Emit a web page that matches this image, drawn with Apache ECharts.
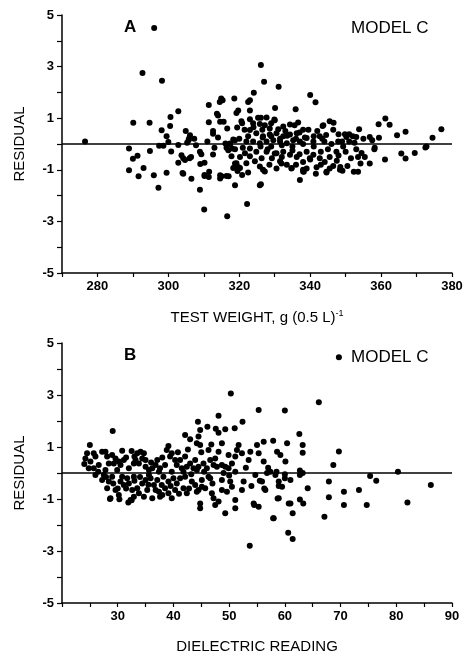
<!DOCTYPE html>
<html>
<head>
<meta charset="utf-8">
<script src="https://cdn.jsdelivr.net/npm/echarts@6/dist/echarts.min.js"></script>
<style>html,body{margin:0;padding:0;background:#fff}#c{width:471px;height:658px}</style>
</head>
<body>
<div id="c"></div>
<script>
// Panel A: residual vs test weight, g (0.5 L)^-1
var testWeightPoints = [
[276.5,0.1],[296,4.5],[292.7,2.75],[298.2,2.45],[290.1,0.82],[294.7,0.82],[288.9,-0.17],[290,-0.57],[291.3,-0.46],[293,-0.93],[288.9,-1.02],[291.6,-1.25],[295.9,-1.21],[297.2,-1.7],[294.8,-0.27],[298.1,0.53],[297.4,-0.07],[298.6,-0.07],[299.5,0.3],[300.6,1.05],[300.5,0.7],[302.8,1.27],[299.5,-1.11],[300.8,-0.29],[300,0.08],[302.8,-0.73],[302.8,-0.04],[304,-1.12],[303.7,-0.44],[304.9,0.5],[304.7,-0.62],[305.7,0.15],[306.5,-1.35],[306.4,-0.5],[306.1,0.34],[307.3,0.2],[308.9,-1.77],[309,-0.78],[310.1,-2.54],[310.2,-1.24],[309.3,-0.4],[310.2,-0.73],[311.4,1.51],[311.4,0.84],[311.4,-1.28],[311.5,-1.08],[312.6,-0.41],[312.6,0.4],[313.7,1.17],[314,1.1],[314.5,1.63],[314.9,1.76],[315.3,1.7],[314.6,0.86],[315.6,0.86],[314.6,-1.21],[314.6,-1.34],[316.6,-2.8],[316.4,-1.24],[316.6,0.6],[316.1,0.02],[317.4,0.02],[316.9,-0.24],[318,-0.17],[318.6,1.76],[318.8,-1.6],[319.2,1.2],[319.7,1.3],[319.4,0.64],[318.8,0.15],[318.8,-0.76],[319.7,-0.89],[320.2,-0.5],[320.8,0.8],[322.2,-2.33],[322.5,1.63],[323,1.7],[323,1.3],[324.1,1.99],[323,0.96],[323.9,0.8],[325.3,1.02],[326.1,1.02],[326.1,3.06],[327,2.41],[326.1,-1.56],[331.1,2.22],[330.1,1.4],[329.9,0.95],[335.9,1.35],[340,1.9],[341.5,1.62],[337.1,-1.4],[338.2,-1.08],[341.6,-1.15],[343.5,0.7],[345.5,0.88],[346.6,0.82],[348,0.38],[348.5,-0.89],[349.1,-1.04],[349.8,0.38],[350.2,0.27],[351,0.38],[352.3,-1.08],[353.5,-1.08],[353.8,0.57],[356.8,0.27],[354.2,-0.76],[356.8,-0.76],[358.1,-0.2],[359.4,0.24],[359.3,0.77],[361.2,0.99],[362.4,0.75],[361.1,-0.6],[364.5,0.34],[365.7,-0.37],[366.9,-0.56],[366.9,0.47],[369.5,-0.35],[372.5,-0.14],[374.5,0.24],[377,0.57],
[320.6,0.88],[327.7,1.03],[330,0.92],[327.2,0.73],[325.8,0.78],[328.6,0.6],[331,0.57],[332.4,0.68],[334.3,0.76],[335.6,0.73],[336.6,0.83],[338,0.55],[336.2,0.42],[334.3,0.37],[332.4,0.3],[330.5,0.42],[328.6,0.37],[326.7,0.3],[324.8,0.42],[323,0.54],[322.5,0.3],[323.9,0.1],[325.8,0.03],[327.7,0.1],[329.6,0.15],[331.5,0.1],[333.4,0.03],[335.2,0.15],[337.1,0.1],[339,0.23],[340.9,0.1],[342.7,0.3],[343.7,0.73],[346.5,0.55],[347.9,0.1],[349.3,-0.1],[347.4,-0.3],[345.5,-0.5],[344.1,-0.7],[346.5,-0.85],[344.6,-1.1],[341.8,-0.9],[342.7,-0.55],[340.9,-0.42],[339,-0.3],[339.9,-0.55],[338,-0.7],[336.2,-0.5],[334.3,-0.42],[332.4,-0.3],[330.5,-0.36],[333.4,-0.8],[334.8,-0.93],[331.5,-0.67],[329.2,-0.55],[327.7,-0.3],[326.3,-0.55],[324.8,-0.3],[323,-0.17],[321.6,-0.36],[319.2,-0.75],[318.3,-0.93],[320.2,-0.93],[322,-0.75],[324.4,-0.67],[325.8,-0.87],[327.2,-1.07],[323,-0.47],[317.4,0],[318.8,-0.2],[316.4,-0.15],[317.8,-0.47],[318.3,0.17],
[305.8,0.2],[305.3,0.05],[312.6,0.5],[308.9,-0.3],[304.2,-0.55],[306,-0.55],[304.2,-1.15],[310.2,-1.2],[315,-1.25],[317,-1.25],[325.8,-1.6],[338,-1.07],
[352,0.3],[353,0.27],[343.4,0.2],[341,0.3],[338.5,0.25],[336,0.2],[333.5,0.32],[331.5,0.2],[329,0.3],[326.6,0.25],[355,0.2],[357.5,0.15],
[326.7,-1.0],[330,-0.37],[331.9,-0.76],[334.7,-0.95],[338,-1.0],[344.6,-1.08],[345.5,-0.95],[348.4,-1.0],[355.4,-0.5],[358.2,-0.15],[372.8,-0.1],
[328,-0.2],[332,-0.5],[335,-0.25],[337,-0.4],[340,-0.6],[343,-0.3],[345,-0.2],[348,-0.45],[350,-0.3],[351.5,-0.55],[353,-0.2],[354.5,-0.35],[349,0.1],[351,0.1],[352.5,0.05],[344,0.1],[346,0.0],[341,-0.1],[338,0.0],[335,-0.1],[332,-0.05],[329,-0.1],[326,-0.1],[322,0.1],[320,0.2],[321,-0.15],
[321.5,0.55],[324,0.65],[326.5,0.55],[329,0.8],[333,0.5],[337,0.45],[339.5,0.55],[342,0.5],[344.5,0.35],[322.5,-1.1],[320.8,-1.2],[319.5,-1.05],[328.5,-0.8],[330.5,-0.95],[336,-0.8],[339,-0.95],[343,-0.8],[347.5,-0.65],[350.5,-0.85],[353.5,-0.5],[313,-0.15],[311,0.1],[314,0.25],[307.8,-0.05]
];

// Panel B: residual vs dielectric reading
var dielectricPoints = [
[69.7,4.45],[50.3,3.06],[55.3,2.42],[60,2.4],[66.1,2.72],[29.1,1.62],[44.4,1.97],[48.1,2.2],[52.4,1.97],
[46.1,1.78],[47.6,1.7],[48.1,1.55],[49.3,1.68],[51,1.72],[44.8,1.65],[44.5,1.4],[42.1,1.46],[43,1.3],[44.2,1.14],[44.8,1.08],[48.7,1.14],[48.1,0.82],[46.3,0.88],[46.6,0.5],[47.2,0.31],[51.7,1.08],[51.4,0.88],[52.3,0.76],[51.1,0.63],[49.9,0.69],[50.5,0.37],[49.3,0.24],[53.8,0.82],[53.5,0.5],[55,1.08],[56.2,1.2],[57.9,1.24],[55.3,0.76],[56.2,0.44],[58.6,0.82],[59.2,0.69],[60.4,1.14],[60.1,0.44],
[62.6,1.5],[63.2,1.08],[63.2,0.78],[69.7,0.83],[68.7,0.31],[57,0.2],[58.5,0.05],[60,-0.05],[62.7,0.1],[63.2,0.0],
[25,1.08],[24.5,0.76],[24.2,0.56],[25.1,0.44],[26,0.63],[25.7,0.76],[27.2,0.82],[27.8,0.82],[28.1,0.63],[29,0.69],[29.6,0.56],[29.3,0.37],[30.2,0.44],[30.5,0.31],[30.8,0.86],[31.1,0.5],[28.4,0.37],[26.6,0.31],[25.7,0.18],[24.8,0.18],[27.8,0.12],[29.9,0.12],[32,0.18],[32.9,0.37],[33,0.63],[33.5,0.76],[34.1,0.82],[34.7,0.76],[33.2,0.5],
[33.8,0.37],[34.4,0.56],[35,0.24],[35.6,0.12],[36.2,0.18],[36.8,0.31],[37.1,0.5],[37.6,0.18],[38.5,0.31],[38.8,0.88],[39.1,1.04],[39.4,0.63],[39.7,0.76],[40.3,0.5],[40.6,0.31],[41.2,0.5],[41.5,0.18],[42.1,0.63],[42.4,0.24],[43,0.37],[43.6,0.18],[43.9,0.5],[44.5,0.24],[45.4,0.37],[46,0.18],[47.5,0.56],[47.8,0.24],[48.7,0.31],[49.9,0.18],[51.1,0.05],[37.4,0.05],[39.7,0.05],[44.2,0.12],
[27.2,-0.27],[27.5,-0.08],[28.4,-0.33],[28.1,-0.59],[28.7,-0.97],[29.6,-0.65],[30.2,-0.85],[30.5,-0.33],[31.1,-0.46],[31.7,-0.2],[32,-0.4],[32.6,-0.65],[32.3,-1.04],[32.9,-0.91],[33.5,-0.59],[33.8,-0.78],[34.4,-0.4],[35,-0.27],[34.7,-0.91],[35.3,-0.65],[35.9,-0.2],[36.5,-0.46],[36.2,-0.97],[37.1,-0.27],[37.4,-0.72],[37.6,-0.91],[37.9,-0.46],[38.2,-0.14],[38.5,-0.59],[39.1,-0.78],[39.1,-0.33],[39.7,-0.97],[40.3,-0.65],[40.6,-0.4],[41.2,-0.2],[41.8,-0.59],[42.1,-0.14],[42.4,-0.78],[43.3,-0.33],[43.9,-0.46],[44.2,-0.72],[45.1,-0.27],[45.7,-0.59],[46.3,-0.14],[32.9,-0.14],[35.6,-0.08],[30.8,-0.14],[29,-0.14],[26,-0.08],
[46.6,-0.2],[44.5,-0.65],[45.1,-0.53],[44.8,-1.17],[44.8,-1.36],[46.9,-0.78],[47.2,-0.97],[47.5,-1.23],[48.1,-1.1],[48.7,-0.65],[49.6,-0.72],[51.1,-1.04],[51.1,-1.36],[49.3,-1.55],[54.4,-1.17],[55.3,-1.3],[58,-1.74],[58.9,-0.97],[61,-1.17],[61,-0.27],[59.5,-0.53],[58.9,-0.33],[56.5,-0.65],[55.9,-0.33],[54.7,-0.08],[57.4,0.05],[58.3,-0.08],[52.6,-0.33],[52.3,-0.65],[50.2,-0.33],[50.5,-0.53],[48.7,-0.27],
[53.7,-2.8],[28.6,-1.0],[30.3,-1.01],[31.9,-1.13],[32.5,-1.05],[54.5,-1.23],
[57.9,-1.74],[60.6,-2.3],[61.4,-2.54],[61.4,-1.55],[60.7,-1.17],[58.7,-0.98],[62.7,-1.02],[63.3,-1.17],[64.1,-0.59],[67.9,-0.33],[67.9,-0.93],[67.1,-1.68],[70.6,-0.72],[70.6,-1.23],[73.3,-0.65],[74.7,-1.23],[75.3,-0.12],[76.4,-0.3],[80.3,0.05],[82,-1.13],[86.2,-0.46],[55.5,-0.3],[56.3,-0.6],[58.9,-0.5],[60,-0.2],[56.8,0],[62.7,-0.08],
[31.5,-0.6],[33,-0.3],[34,-0.15],[35.5,-0.45],[36.8,-0.65],[38,-0.85],[39.5,-0.5],[40,-0.2],[41,-0.8],[42.8,-0.6],[30,-0.6],[29.2,-0.4],[27.9,-0.15],[26.5,0.05],[24,0.35],[31.5,0.6],[32.5,0.85],[36,0.4],[38,0.6],[40.8,0.8],[42.6,0.9],[45,0.8],[46.8,1.1],[41.8,0.05],[43.2,-0.05],[45.5,0.05],[47,-0.4],[49,0.0],[50,-0.1],[53,0.2],[54,-0.5],[35,0.5]
];

var yTickLabels = ['-5','-3','-1','1','3','5'];
var xTickLabelsA = ['280','300','320','340','360','380'];
var xTickLabelsB = ['30','40','50','60','70','80','90'];

var FONT = '"Liberation Sans", Arial, Helvetica, sans-serif';
var chart = echarts.init(document.getElementById('c'), null, {renderer: 'canvas'});

function yAxis(gi) {
  return {
    gridIndex: gi, type: 'value', min: -5, max: 5, interval: 1,
    name: 'RESIDUAL', nameLocation: 'middle', nameGap: 35, nameRotate: 90,
    nameTextStyle: {fontFamily: FONT, fontSize: 15, color: '#000'},
    axisLine: {show: true, lineStyle: {color: '#000', width: 1.5}},
    axisTick: {show: true, inside: false, length: 5, lineStyle: {color: '#000', width: 1.2}},
    axisLabel: {fontFamily: FONT, fontSize: 13, fontWeight: 'bold', color: '#000', margin: 8,
      formatter: function (v) { var s = String(v); return yTickLabels.indexOf(s) >= 0 ? s : ''; }},
    splitLine: {show: false}
  };
}
function xAxis(gi, min, max, step, labels, nameRich) {
  return {
    gridIndex: gi, type: 'value', min: min, max: max, interval: step,
    name: nameRich, nameLocation: 'middle', nameGap: 36,
    nameTextStyle: {fontFamily: FONT, fontSize: 15, color: '#000',
      rich: {sup: {fontFamily: FONT, fontSize: 9, color: '#000', verticalAlign: 'top', padding: [0,0,8,0]}}},
    axisLine: {show: true, onZero: false, lineStyle: {color: '#000', width: 1.5}},
    axisTick: {show: true, length: 4, lineStyle: {color: '#000', width: 1.2}},
    axisLabel: {fontFamily: FONT, fontSize: 13, fontWeight: 'bold', color: '#000', margin: 7,
      formatter: function (v) { var s = String(v); return labels.indexOf(s) >= 0 ? s : ''; }},
    splitLine: {show: false}
  };
}
function zeroLine() {
  return {silent: true, symbol: 'none', label: {show: false},
    lineStyle: {color: '#000', width: 1.6, type: 'solid'},
    data: [{yAxis: 0}]};
}

chart.setOption({
  animation: false,
  backgroundColor: '#fff',
  grid: [
    {left: 62, top: 15, width: 390, height: 258, containLabel: false},
    {left: 62, top: 343, width: 390, height: 260, containLabel: false}
  ],
  xAxis: [
    xAxis(0, 270, 380, 10, xTickLabelsA, 'TEST WEIGHT, g (0.5 L){sup|-1}'),
    xAxis(1, 20, 90, 5, xTickLabelsB, 'DIELECTRIC READING')
  ],
  yAxis: [yAxis(0), yAxis(1)],
  series: [
    {type: 'scatter', xAxisIndex: 0, yAxisIndex: 0, data: testWeightPoints,
     symbol: 'circle', symbolSize: 6, itemStyle: {color: '#000', opacity: 1}, markLine: zeroLine()},
    {type: 'scatter', xAxisIndex: 1, yAxisIndex: 1, data: dielectricPoints,
     symbol: 'circle', symbolSize: 6, itemStyle: {color: '#000', opacity: 1}, markLine: zeroLine()}
  ],
  graphic: [
    {type: 'text', left: 124, top: 19, style: {text: 'A', font: 'bold 17px ' + FONT, fill: '#000'}},
    {type: 'text', left: 351, top: 20, style: {text: 'MODEL C', font: '17px ' + FONT, fill: '#000'}},
    {type: 'text', left: 124, top: 347, style: {text: 'B', font: 'bold 17px ' + FONT, fill: '#000'}},
    {type: 'text', left: 351, top: 349, style: {text: 'MODEL C', font: '17px ' + FONT, fill: '#000'}}
  ]
});
</script>
</body>
</html>
